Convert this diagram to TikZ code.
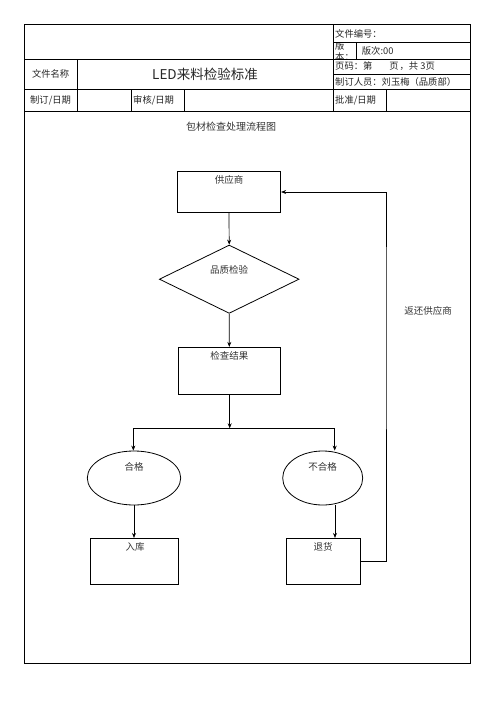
\documentclass[tikz,border=0pt]{standalone}
\usepackage{fontspec}
\setmainfont{Noto Sans CJK SC}
\usetikzlibrary{shapes.geometric,arrows.meta}
\begin{document}
\begin{tikzpicture}[x=1pt,y=-1pt,
  frame/.style={line width=0.8pt,black},
  txt/.style={inner sep=0pt,text=black!85,font=\fontsize{9.3}{10}\selectfont},
  flowtxt/.style={inner sep=0pt,text=black!80,font=\fontsize{9.5}{11}\selectfont},
  boxnode/.style={draw,line width=0.8pt,rectangle,inner sep=0pt},
  arr/.style={line width=0.7pt,-{Stealth[length=5pt,width=4pt]}},
  ln/.style={line width=0.7pt}]
\useasboundingbox (0,0) rectangle (496,702);
% header table
\draw[frame] (24,24.5) rectangle (470.5,663);
\draw[frame] (24,59.3) -- (470.5,59.3);
\draw[frame] (24,89) -- (470.5,89);
\draw[frame] (24,111.7) -- (470.5,111.7);
\draw[frame] (333,24.5) -- (333,111.7);
\draw[frame] (333,42.7) -- (470.5,42.7);
\draw[frame] (333,74.3) -- (470.5,74.3);
\draw[frame] (356.7,42.7) -- (356.7,59.3);
\draw[frame] (77.3,59.3) -- (77.3,111.7);
\draw[frame] (131,89) -- (131,111.7);
\draw[frame] (184.3,89) -- (184.3,111.7);
\draw[frame] (386.7,89) -- (386.7,111.7);
\node[txt,anchor=west] (h1) at (335,33.6) {文件编号：};
\begin{scope}
\clip (333.5,43.2) rectangle (356.2,58.9);
\node[txt,anchor=base west,text depth=0pt] (h2a) at (335,49.5) {版};
\node[txt,anchor=base west,text depth=0pt,text height=5pt] (h2b) at (335,60.5) {本：};
\end{scope}
\node[txt,anchor=west] (h3) at (361.7,51) {版次:00};
\node[txt,anchor=west] (h4) at (335,66.5) {页码：第\hspace{17pt}页\hspace{1pt}，共 3页};
\node[txt,anchor=west] (h5) at (335,82) {制订人员：刘玉梅（品质部）};
\node[txt] (h6) at (50.6,74.2) {文件名称};
\node[txt,font=\fontsize{13.5}{15}\selectfont] (h7) at (205,74) {LED来料检验标准};
\node[txt] (h8) at (50.6,100.4) {制订/日期};
\node[txt,anchor=west] (h9) at (133,100.4) {审核/日期};
\node[txt,anchor=west] (h10) at (335,100.4) {批准/日期};
% flowchart
\node[flowtxt,font=\fontsize{10}{12}\selectfont] (title) at (231,127) {包材检查处理流程图};
\node[boxnode,minimum width=103.4pt,minimum height=40.6pt] (sup) at (229,192) {};
\node[flowtxt] (supt) at (229,180) {供应商};
\node[draw,line width=0.8pt,diamond,inner sep=0pt,minimum width=139.7pt,minimum height=68.3pt] (qc) at (229.2,279.2) {};
\node[flowtxt] (qct) at (229.2,270) {品质检验};
\node[boxnode,minimum width=102pt,minimum height=47pt] (res) at (229.3,370.8) {};
\node[flowtxt] (rest) at (229.3,355.5) {检查结果};
\node[draw,line width=0.8pt,ellipse,inner sep=0pt,minimum width=93.4pt,minimum height=54pt] (ok) at (134,478) {};
\node[flowtxt] (okt) at (134,467) {合格};
\node[draw,line width=0.8pt,ellipse,inner sep=0pt,minimum width=80pt,minimum height=54pt] (ng) at (322.7,478) {};
\node[flowtxt] (ngt) at (322.7,467) {不合格};
\node[boxnode,minimum width=87.6pt,minimum height=45.7pt] (in) at (134.5,561.2) {};
\node[flowtxt] (int) at (135,547) {入库};
\node[boxnode,minimum width=73.3pt,minimum height=45.7pt] (ret) at (323.3,561.2) {};
\node[flowtxt] (rett) at (323,547) {退货};
\node[flowtxt] (back) at (428,311) {返还供应商};
\coordinate (jn) at (229.7,428.3);
\coordinate (jL) at (133.3,428.3);
\coordinate (jR) at (334.7,428.3);
\coordinate (ngx) at (335,505);
\coordinate (rx) at (386,300);
\draw[arr] (sup.south) -- (qc.north);
\draw[arr] (qc.south) -- (res.north);
\draw[arr] (res.south -| jn) -- (jn);
\draw[ln] (jL) -- (jR);
\draw[arr] (jL) -- (jL |- ok.north);
\draw[arr] (jR) -- (jR |- ng.north);
\draw[arr] (ok.south) -- (in.north -| ok.south);
\draw[arr] (ngx) -- (ngx |- ret.north);
\draw[arr] (ret.east) -| (rx) |- (sup.east);
\end{tikzpicture}
\end{document}
